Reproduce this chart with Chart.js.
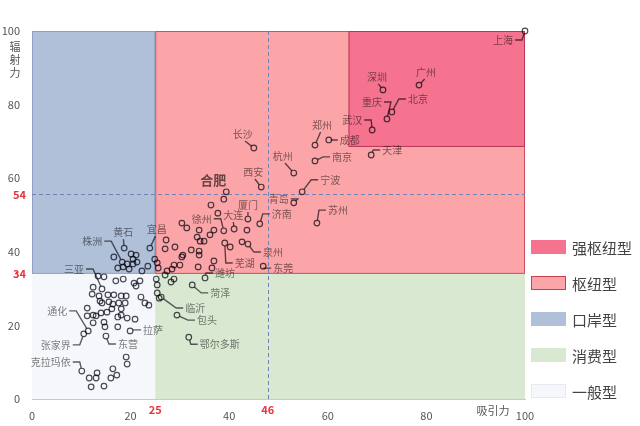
<!DOCTYPE html>
<html>
<head>
<meta charset="utf-8">
<script src="https://cdn.jsdelivr.net/npm/chart.js@4.4.1/dist/chart.umd.min.js"></script>
<style>
  body { margin: 0; background: #fff; }
  #wrap { width: 640px; height: 426px; }
</style>
</head>
<body>
<div id="wrap"><canvas id="chart"></canvas></div>
<script>
// labelled cities
const cityNames = ['上海','广州','深圳','北京','重庆','武汉','郑州','成都','天津','南京','杭州','宁波','苏州','青岛','长沙','西安','合肥','厦门','济南','大连','徐州','泉州','芜湖','东莞','黄石','株洲','宜昌','三亚','潍坊','菏泽','临沂','包头','鄂尔多斯','通化','张家界','克拉玛依','东营','拉萨'];
const cityX = [100,78.5,71.2,73.0,72.0,69.0,57.4,60.2,68.8,57.4,53.1,54.8,57.8,53.1,45.0,46.5,39.4,43.8,46.2,41.0,38.9,43.8,39.1,46.9,18.7,18.3,23.9,14.2,35.1,32.5,26.2,29.4,31.8,11.4,10.5,10.1,15.0,19.9];
const cityY = [100,85.3,84.0,78.0,76.1,73.1,69.0,70.4,66.3,64.7,61.4,56.3,47.8,53.3,68.2,57.6,56.3,48.9,47.6,46.2,45.7,42.1,42.4,36.1,41.0,37.2,41.0,29.9,32.9,31.0,27.7,22.8,16.8,18.5,17.7,7.6,17.1,18.5];

// other cities (no label)
const otherX = [16.6,20.1,21.1,20.5,21.3,17.4,18.5,19.3,19.7,20.5,23.5,24.9,25.4,25.6,22.3,
  38.9,36.3,37.7,30.4,31.4,33.9,36.9,33.5,36.1,27.2,34.1,34.9,29.0,27.0,32.3,30.6,33.9,33.9,30.4,36.9,33.7,36.5,28.8,28.4,27.4,40.2,42.6,43.6,30.0,
  25.2,25.4,25.4,25.8,27.0,28.2,28.8,
  13.4,14.6,17.0,18.5,12.4,12.2,13.6,13.8,14.2,15.4,16.6,18.1,19.1,15.6,16.4,17.6,18.9,20.7,21.1,21.9,22.1,22.9,23.7,11.2,15.2,16.2,18.1,18.1,17.4,19.3,20.9,11.2,12.4,13.0,14.0,12.4,14.6,14.8,17.4,19.1,19.3,16.4,13.2,17.2,11.6,13.0,16.0,12.0,14.6];
const otherY = [38.6,39.4,39.1,38.0,37.2,35.6,35.9,36.7,35.3,36.7,36.1,38.0,37.0,35.6,34.8,
  54.3,52.7,50.5,47.8,46.5,45.9,45.9,44.0,44.6,43.2,42.9,42.9,41.3,40.8,40.5,39.1,40.2,39.1,38.6,37.5,35.9,35.6,36.4,35.3,34.8,41.3,42.7,45.9,36.4,
  32.6,31.0,28.8,27.4,33.7,31.8,32.6,
  33.4,33.2,32.1,32.6,30.4,28.5,28.0,26.6,26.1,28.3,28.3,28.0,28.0,26.4,25.8,26.1,26.1,31.5,30.7,32.1,27.7,26.1,25.5,24.7,23.6,24.5,24.5,22.8,22.3,22.0,21.7,22.6,22.8,22.6,23.4,20.7,20.9,19.6,19.6,11.4,9.5,8.2,7.1,6.5,5.7,5.7,5.7,3.3,3.5];

const xTicks = [0,20,40,60,80,100];
const yTicks = [0,20,40,60,80,100];
const typeNames = ['强枢纽型','枢纽型','口岸型','消费型','一般型'];

// region boundaries and the dashed reference lines
const attrSplit = 25, radSplit = 34;
const strongX = 64.2, strongY = 68.5;
const xMarks = [{ v: 25, t: '25' }, { v: 47.8, t: '46' }];
const yMarks = [{ v: 34, t: '34' }, { v: 55.6, t: '54' }];

const FONT = '"Noto Sans CJK SC", "Noto Sans", sans-serif';
Chart.defaults.font.family = FONT;

const typeColors = ['#f5738f','#fca5a8','#b0c0d8','#d9e9d1','#f5f7fb'];
const typeBorders = ['#f5738f','#c8404e','#b0c0d8','#d9e9d1','#e6e9ef'];

// label offset (px) from its point, style only
const labelPos = {
  '上海':[-22,9],'广州':[7,-13],'深圳':[-6,-13],'北京':[26,-13],'重庆':[-15,-17],'武汉':[-20,-10],
  '郑州':[7,-20],'成都':[21,0],'天津':[21,-5],'南京':[27,-4],'杭州':[-11,-17],'宁波':[28,-12],
  '苏州':[21,-13],'青岛':[-15,-4],'长沙':[-11,-14],'西安':[-8,-15],'合肥':[-13,-12],'厦门':[0,-14],
  '济南':[22,-10],'大连':[-1,-14],'徐州':[-22,-12],'泉州':[25,8],'芜湖':[20,20],'东莞':[20,2],
  '黄石':[-1,-16],'株洲':[-30,-21],'宜昌':[7,-19],'三亚':[-28,-20],'潍坊':[20,-5],'菏泽':[28,8],
  '临沂':[34,11],'包头':[30,5],'鄂尔多斯':[31,7],'通化':[-31,-20],'张家界':[-28,11],'克拉玛依':[-31,-9],
  '东营':[22,8],'拉萨':[23,-1]
};

const others = otherX.map((x, i) => ({ x: x, y: otherY[i] }));
const cities = cityX.map((x, i) => ({ x: x, y: cityY[i], name: cityNames[i] }));

const bgPlugin = {
  id: 'bg',
  beforeDatasetsDraw(chart) {
    const ctx = chart.ctx, xs = chart.scales.x, ys = chart.scales.y;
    const rect = (x0, y0, x1, y1, fill, stroke) => {
      const a = xs.getPixelForValue(x0), b = ys.getPixelForValue(y1);
      const c = xs.getPixelForValue(x1), d = ys.getPixelForValue(y0);
      ctx.fillStyle = fill;
      ctx.fillRect(a, b, c - a, d - b);
      if (stroke) {
        ctx.strokeStyle = stroke;
        ctx.lineWidth = 1;
        ctx.strokeRect(a + 0.5, b + 0.5, c - a - 1, d - b - 1);
      }
    };
    ctx.save();
    rect(0, 0, attrSplit, radSplit, typeColors[4]);
    rect(attrSplit, 0, 100, radSplit, typeColors[3]);
    rect(0, radSplit, attrSplit, 100, typeColors[2], 'rgba(120,140,180,0.6)');
    rect(attrSplit, radSplit, 100, 100, typeColors[1], 'rgba(190,60,80,0.8)');
    rect(strongX, strongY, 100, 100, typeColors[0], 'rgba(170,40,70,0.8)');
    // dashed reference lines
    ctx.strokeStyle = '#6f82b8';
    ctx.lineWidth = 1;
    ctx.setLineDash([4, 3]);
    const vx = Math.round(xs.getPixelForValue(xMarks[1].v)) + 0.5;
    ctx.beginPath();
    ctx.moveTo(vx, ys.top);
    ctx.lineTo(vx, ys.bottom);
    ctx.stroke();
    const hy = Math.round(ys.getPixelForValue(yMarks[1].v)) + 0.5;
    ctx.beginPath();
    ctx.moveTo(xs.left, hy);
    ctx.lineTo(xs.right, hy);
    ctx.stroke();
    ctx.restore();
  },
  // marks take the tint of the region behind them
  beforeDatasetDraw(chart) {
    chart.ctx.save();
    chart.ctx.globalCompositeOperation = 'multiply';
  },
  afterDatasetDraw(chart) {
    chart.ctx.restore();
  },
  afterDatasetsDraw(chart) {
    const ctx = chart.ctx;
    const meta = chart.getDatasetMeta(1);
    ctx.save();
    ctx.globalCompositeOperation = 'multiply';
    ctx.textAlign = 'center';
    ctx.textBaseline = 'middle';
    meta.data.forEach((pt, i) => {
      const name = cityNames[i];
      const off = labelPos[name];
      const px = pt.x, py = pt.y;
      const lx = px + off[0], ly = py + off[1];
      const big = name === '合肥';
      ctx.font = big ? 'bold 13px ' + FONT : '10px ' + FONT;
      ctx.fillStyle = big ? 'rgb(105,105,105)' : 'rgb(128,128,128)';
      ctx.fillText(name, lx, ly);
      if (big) return;
      const w = ctx.measureText(name).width;
      let pts;
      if (Math.abs(off[0]) > w / 2 + 4) {
        const s = off[0] > 0 ? 1 : -1;
        const endX = lx - s * (w / 2 + 2);
        const elbX = endX - s * 7;
        pts = [[elbX, ly], [endX, ly]];
      } else {
        const s = off[1] < 0 ? 1 : -1;
        pts = [[lx - off[0] * 0.2, ly + s * 7]];
      }
      const dx = pts[0][0] - px, dy = pts[0][1] - py;
      const len = Math.hypot(dx, dy) || 1;
      ctx.strokeStyle = 'rgb(95,95,100)';
      ctx.lineWidth = 1.4;
      ctx.beginPath();
      ctx.moveTo(px + dx / len * 3, py + dy / len * 3);
      pts.forEach(p => ctx.lineTo(p[0], p[1]));
      ctx.stroke();
    });
    ctx.restore();
  },
  afterDraw(chart) {
    const ctx = chart.ctx, xs = chart.scales.x, ys = chart.scales.y;
    ctx.save();
    // red mark labels
    ctx.fillStyle = '#e8333f';
    ctx.font = 'bold 11px ' + FONT;
    ctx.textAlign = 'center';
    ctx.textBaseline = 'middle';
    xMarks.forEach(m => ctx.fillText(m.t, xs.getPixelForValue(m.v), 410));
    ctx.textAlign = 'right';
    yMarks.forEach(m => ctx.fillText(m.t, 26, ys.getPixelForValue(m.v)));
    // axis titles
    ctx.fillStyle = '#555';
    ctx.font = '11px ' + FONT;
    ctx.textAlign = 'center';
    '辐射力'.split('').forEach((c, i) => ctx.fillText(c, 15, 47 + i * 13));
    ctx.fillText('吸引力', 493, 411);
    // legend
    ctx.textAlign = 'left';
    ctx.font = '15px ' + FONT;
    typeNames.forEach((t, i) => {
      const y = 247 + i * 36;
      ctx.fillStyle = typeColors[i];
      ctx.fillRect(531, y - 7, 35, 14);
      ctx.strokeStyle = typeBorders[i];
      ctx.lineWidth = 1;
      ctx.strokeRect(531.5, y - 6.5, 34, 13);
      ctx.fillStyle = '#444';
      ctx.fillText(t, 572, y + 1);
    });
    ctx.restore();
  }
};

const pointStyle = {
  pointRadius: 2.8,
  pointHoverRadius: 2.8,
  pointBackgroundColor: 'rgba(255,255,255,0)',
  pointBorderColor: 'rgb(75,75,85)',
  pointBorderWidth: 1.2,
  showLine: false,
  clip: false
};

new Chart(document.getElementById('chart'), {
  type: 'scatter',
  data: {
    datasets: [
      Object.assign({ label: 'others', data: others }, pointStyle),
      Object.assign({ label: 'cities', data: cities }, pointStyle)
    ]
  },
  options: {
    responsive: true,
    maintainAspectRatio: false,
    animation: false,
    layout: { padding: { top: 31, right: 115, left: 0, bottom: 0 } },
    plugins: { legend: { display: false }, tooltip: { enabled: false } },
    scales: {
      x: {
        type: 'linear', min: 0, max: 100,
        afterBuildTicks: s => { s.ticks = xTicks.map(v => ({ value: v })); },
        afterFit: s => { s.height = 27; },
        grid: { display: false },
        border: { display: true, color: '#bccbdd' },
        ticks: { color: '#555', font: { size: 11 }, padding: 2 }
      },
      y: {
        type: 'linear', min: 0, max: 100,
        afterBuildTicks: s => { s.ticks = yTicks.map(v => ({ value: v })); },
        afterFit: s => { s.width = 32; },
        grid: { display: false },
        border: { display: false },
        ticks: { color: '#555', font: { size: 11 }, padding: 4 }
      }
    }
  },
  plugins: [bgPlugin]
});
</script>
</body>
</html>
